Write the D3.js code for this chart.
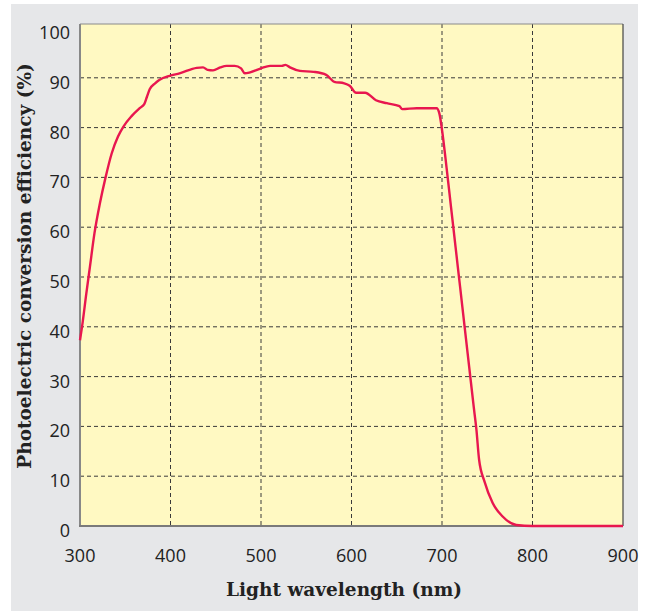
<!DOCTYPE html>
<html>
<head>
<meta charset="utf-8">
<script src="https://cdn.jsdelivr.net/npm/d3@7"></script>
<style>
  html, body { margin: 0; padding: 0; background: #ffffff; }
  svg { display: block; }
</style>
</head>
<body>
<div id="chart"></div>
<script>
// values
const wavelength = [300, 303, 307, 311, 316, 322, 328, 335, 342, 348, 357, 366, 371, 374, 377, 383, 388,
    399, 410, 429, 436, 441, 447, 455, 462, 471, 478, 482, 488, 500, 510, 523, 527, 532, 543, 558, 572,
    581, 592, 598, 605, 615, 627, 639, 653, 656, 672, 694, 697, 701, 705, 710, 715, 720, 725, 730, 735,
    738, 741, 747, 756, 767, 782, 800, 850, 900];
const efficiency = [37.3, 41, 46.7, 52.1, 58.8, 64.8, 69.8, 74.8, 78.2, 80.2, 82.3, 83.9, 84.7, 86.2, 87.7, 88.9, 89.6,
    90.4, 90.9, 92, 92.1, 91.6, 91.5, 92.1, 92.4, 92.4, 91.9, 90.9, 91.1, 91.9, 92.4, 92.4, 92.6, 92.1, 91.4, 91.2, 90.6,
    89.2, 88.9, 88.4, 87, 87, 85.5, 84.9, 84.3, 83.7, 83.9, 83.9, 82.9, 78.2, 72, 64, 56, 48, 40, 32, 24,
    19.4, 13.3, 8.9, 4.6, 1.9, 0.2, 0, 0, 0];
const xTicks = [300, 400, 500, 600, 700, 800, 900];
const yTicks = [0, 10, 20, 30, 40, 50, 60, 70, 80, 90, 100];

const W = 653, H = 611;
const plot = {left: 80, right: 623, top: 24, bottom: 526};

const svg = d3.select("#chart").append("svg")
    .attr("width", W)
    .attr("height", H);

// grey panel behind the chart
svg.append("rect")
    .attr("x", 11).attr("y", 4)
    .attr("width", 627).attr("height", 607)
    .attr("fill", "#e6e7e9");

const xScale = d3.scaleLinear().domain([300, 900]).range([plot.left, plot.right]);
const yScale = d3.scaleLinear().domain([0, 100]).range([plot.bottom, 28]);

// plot area
svg.append("rect")
    .attr("x", plot.left).attr("y", plot.top)
    .attr("width", plot.right - plot.left).attr("height", plot.bottom - plot.top)
    .attr("fill", "#fff9c2");

// dashed grid
const grid = svg.append("g")
    .attr("stroke", "#3a3a3a")
    .attr("stroke-width", 1)
    .attr("stroke-dasharray", "4,3");

grid.selectAll(".vg").data(xTicks.filter(d => d > 300 && d < 900)).join("line")
    .attr("x1", d => xScale(d)).attr("x2", d => xScale(d))
    .attr("y1", plot.top).attr("y2", plot.bottom);

grid.selectAll(".hg").data(yTicks.filter(d => d > 0 && d < 100)).join("line")
    .attr("x1", plot.left).attr("x2", plot.right)
    .attr("y1", d => yScale(d)).attr("y2", d => yScale(d));

// frame
svg.append("line").attr("x1", plot.left).attr("x2", plot.right)
    .attr("y1", plot.top).attr("y2", plot.top)
    .attr("stroke", "#8a8a8a").attr("stroke-width", 1);
svg.append("line").attr("x1", plot.right).attr("x2", plot.right)
    .attr("y1", plot.top).attr("y2", plot.bottom)
    .attr("stroke", "#444").attr("stroke-width", 1.2);
svg.append("line").attr("x1", plot.left).attr("x2", plot.left)
    .attr("y1", plot.top).attr("y2", plot.bottom + 1)
    .attr("stroke", "#888").attr("stroke-width", 2);
svg.append("line").attr("x1", plot.left - 1).attr("x2", plot.right)
    .attr("y1", plot.bottom).attr("y2", plot.bottom)
    .attr("stroke", "#7a7a7a").attr("stroke-width", 2);

// the curve
const points = wavelength.map((w, i) => ({x: w, y: efficiency[i]}));
const lineGen = d3.line()
    .x(d => xScale(d.x))
    .y(d => yScale(d.y))
    .curve(d3.curveMonotoneX);

svg.append("path")
    .datum(points)
    .attr("d", lineGen)
    .attr("fill", "none")
    .attr("stroke", "#e8174f")
    .attr("stroke-width", 2.4)
    .attr("stroke-linejoin", "round");

// tick labels
const tickFont = "'Open Sans', sans-serif";
svg.append("g").selectAll("text").data(xTicks).join("text")
    .attr("x", d => xScale(d))
    .attr("y", 562)
    .attr("text-anchor", "middle")
    .attr("font-family", tickFont)
    .attr("font-size", 18)
    .attr("fill", "#222")
    .text(d => d);

svg.append("g").selectAll("text").data(yTicks).join("text")
    .attr("x", 70)
    .attr("y", d => yScale(d) + 11)
    .attr("text-anchor", "end")
    .attr("font-family", tickFont)
    .attr("font-size", 18)
    .attr("fill", "#222")
    .text(d => d);

// axis titles
svg.append("text")
    .attr("x", 344)
    .attr("y", 596)
    .attr("text-anchor", "middle")
    .attr("font-family", "'DejaVu Serif', serif")
    .attr("font-weight", "bold")
    .attr("font-size", 18.5)
    .attr("fill", "#222")
    .text("Light wavelength (nm)");

svg.append("text")
    .attr("transform", "translate(31,266) rotate(-90)")
    .attr("text-anchor", "middle")
    .attr("font-family", "'DejaVu Serif', serif")
    .attr("font-weight", "bold")
    .attr("font-size", 18.5)
    .attr("fill", "#222")
    .text("Photoelectric conversion efficiency (%)");
</script>
</body>
</html>
